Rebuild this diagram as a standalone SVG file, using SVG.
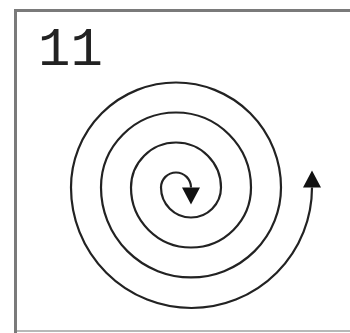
<svg xmlns="http://www.w3.org/2000/svg" width="350" height="333" viewBox="0 0 350 333">
  <style>
    .frame { stroke: #7a7a7a; stroke-width: 3; fill: none; }
    .frame-bottom { stroke: #b8b8b8; stroke-width: 2; fill: none; }
    .label { font-family: "Liberation Mono", "DejaVu Sans Mono", monospace; font-size: 54px; fill: #222; }
    .spiral { stroke: #222; stroke-width: 2.2; fill: none; }
  </style>
  <defs>
    <marker id="arrow" markerUnits="userSpaceOnUse" markerWidth="20" markerHeight="20" refX="0" refY="9" orient="auto-start-reverse" overflow="visible">
      <path d="M0,0 L17,9 L0,18 z" fill="#111"/>
    </marker>
  </defs>
  <rect width="350" height="333" fill="#fff"/>
  <g id="frame">
    <line class="frame" x1="15.5" y1="9" x2="15.5" y2="333"/>
    <line class="frame" x1="14" y1="10.5" x2="350" y2="10.5"/>
    <line class="frame-bottom" x1="17" y1="331" x2="350" y2="331"/>
  </g>
  <g id="label">
    <text class="label" x="38" y="65">11</text>
  </g>
  <g id="connectors">
    <path class="spiral" marker-start="url(#arrow)" marker-end="url(#arrow)"
      d="M312,187.5 A120.5,120.5 0 0 1 71,187.5 A105,105 0 0 1 281,187.5 A90,90 0 0 1 101,187.5 A75,75 0 0 1 251,187.5 A60,60 0 0 1 131,187.5 A45,45 0 0 1 221,187.5 A30,30 0 0 1 161,187.5 A15,15 0 0 1 191,187.5"/>
  </g>
</svg>
